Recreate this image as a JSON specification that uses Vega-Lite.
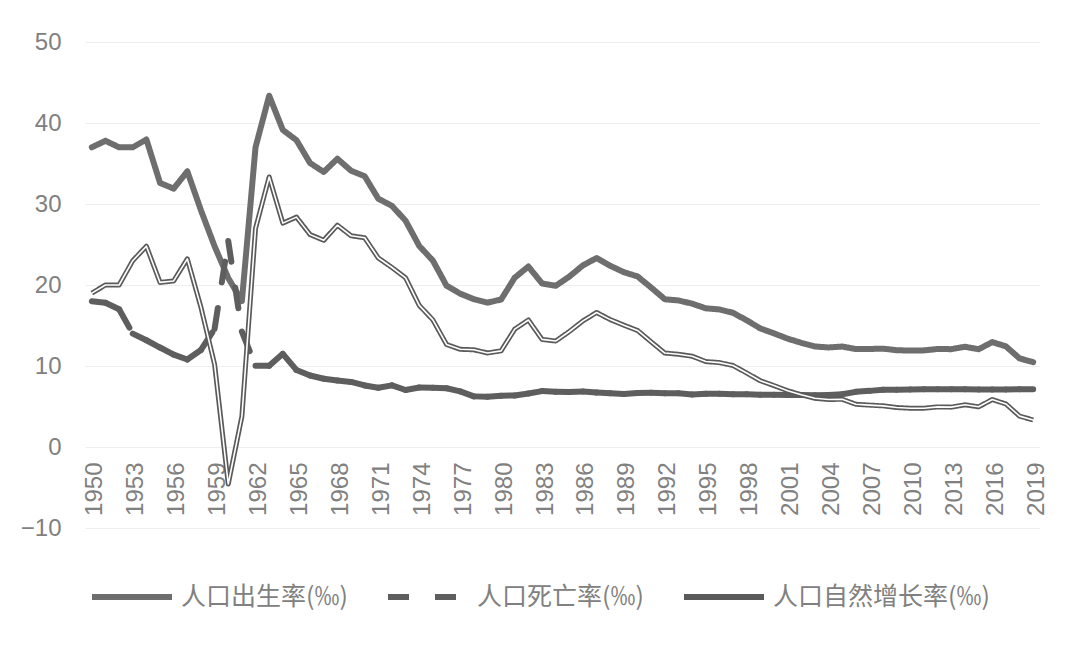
{
  "$schema": "https://vega.github.io/schema/vega-lite/v6.json",
  "width": 955,
  "height": 486,
  "autosize": "none",
  "padding": {"left": 85, "top": 42, "right": 40, "bottom": 119},
  "background": "white",
  "config": {"view": {"stroke": null}},
  "data": {"values": [
    {"year":1950,"birth":37.00,"death":18.00,"growth":19.00},
    {"year":1951,"birth":37.80,"death":17.80,"growth":20.00},
    {"year":1952,"birth":37.00,"death":17.00,"growth":20.00},
    {"year":1953,"birth":37.00,"death":14.00,"growth":23.00},
    {"year":1954,"birth":37.97,"death":13.18,"growth":24.79},
    {"year":1955,"birth":32.60,"death":12.28,"growth":20.32},
    {"year":1956,"birth":31.90,"death":11.40,"growth":20.50},
    {"year":1957,"birth":34.03,"death":10.80,"growth":23.23},
    {"year":1958,"birth":29.22,"death":11.98,"growth":17.24},
    {"year":1959,"birth":24.78,"death":14.59,"growth":10.19},
    {"year":1960,"birth":20.86,"death":25.43,"growth":-4.57},
    {"year":1961,"birth":18.02,"death":14.24,"growth":3.78},
    {"year":1962,"birth":37.01,"death":10.02,"growth":26.99},
    {"year":1963,"birth":43.37,"death":10.04,"growth":33.33},
    {"year":1964,"birth":39.14,"death":11.50,"growth":27.64},
    {"year":1965,"birth":37.88,"death":9.50,"growth":28.38},
    {"year":1966,"birth":35.05,"death":8.83,"growth":26.22},
    {"year":1967,"birth":33.96,"death":8.43,"growth":25.53},
    {"year":1968,"birth":35.59,"death":8.21,"growth":27.38},
    {"year":1969,"birth":34.11,"death":8.03,"growth":26.08},
    {"year":1970,"birth":33.43,"death":7.60,"growth":25.83},
    {"year":1971,"birth":30.65,"death":7.32,"growth":23.33},
    {"year":1972,"birth":29.77,"death":7.61,"growth":22.16},
    {"year":1973,"birth":27.93,"death":7.04,"growth":20.89},
    {"year":1974,"birth":24.82,"death":7.34,"growth":17.48},
    {"year":1975,"birth":23.01,"death":7.32,"growth":15.69},
    {"year":1976,"birth":19.91,"death":7.25,"growth":12.66},
    {"year":1977,"birth":18.93,"death":6.87,"growth":12.06},
    {"year":1978,"birth":18.25,"death":6.25,"growth":12.00},
    {"year":1979,"birth":17.82,"death":6.21,"growth":11.61},
    {"year":1980,"birth":18.21,"death":6.34,"growth":11.87},
    {"year":1981,"birth":20.91,"death":6.36,"growth":14.55},
    {"year":1982,"birth":22.28,"death":6.60,"growth":15.68},
    {"year":1983,"birth":20.19,"death":6.90,"growth":13.29},
    {"year":1984,"birth":19.90,"death":6.82,"growth":13.08},
    {"year":1985,"birth":21.04,"death":6.78,"growth":14.26},
    {"year":1986,"birth":22.43,"death":6.86,"growth":15.57},
    {"year":1987,"birth":23.33,"death":6.72,"growth":16.61},
    {"year":1988,"birth":22.37,"death":6.64,"growth":15.73},
    {"year":1989,"birth":21.58,"death":6.54,"growth":15.04},
    {"year":1990,"birth":21.06,"death":6.67,"growth":14.39},
    {"year":1991,"birth":19.68,"death":6.70,"growth":12.98},
    {"year":1992,"birth":18.24,"death":6.64,"growth":11.60},
    {"year":1993,"birth":18.09,"death":6.64,"growth":11.45},
    {"year":1994,"birth":17.70,"death":6.49,"growth":11.21},
    {"year":1995,"birth":17.12,"death":6.57,"growth":10.55},
    {"year":1996,"birth":16.98,"death":6.56,"growth":10.42},
    {"year":1997,"birth":16.57,"death":6.51,"growth":10.06},
    {"year":1998,"birth":15.64,"death":6.50,"growth":9.14},
    {"year":1999,"birth":14.64,"death":6.46,"growth":8.18},
    {"year":2000,"birth":14.03,"death":6.45,"growth":7.58},
    {"year":2001,"birth":13.38,"death":6.43,"growth":6.95},
    {"year":2002,"birth":12.86,"death":6.41,"growth":6.45},
    {"year":2003,"birth":12.41,"death":6.40,"growth":6.01},
    {"year":2004,"birth":12.29,"death":6.42,"growth":5.87},
    {"year":2005,"birth":12.40,"death":6.51,"growth":5.89},
    {"year":2006,"birth":12.09,"death":6.81,"growth":5.28},
    {"year":2007,"birth":12.10,"death":6.93,"growth":5.17},
    {"year":2008,"birth":12.14,"death":7.06,"growth":5.08},
    {"year":2009,"birth":11.95,"death":7.08,"growth":4.87},
    {"year":2010,"birth":11.90,"death":7.11,"growth":4.79},
    {"year":2011,"birth":11.93,"death":7.14,"growth":4.79},
    {"year":2012,"birth":12.10,"death":7.13,"growth":4.95},
    {"year":2013,"birth":12.08,"death":7.13,"growth":4.92},
    {"year":2014,"birth":12.37,"death":7.12,"growth":5.21},
    {"year":2015,"birth":12.07,"death":7.11,"growth":4.96},
    {"year":2016,"birth":12.95,"death":7.09,"growth":5.86},
    {"year":2017,"birth":12.43,"death":7.11,"growth":5.32},
    {"year":2018,"birth":10.94,"death":7.13,"growth":3.81},
    {"year":2019,"birth":10.48,"death":7.14,"growth":3.34}
  ]},
  "encoding": {
    "x": {
      "field": "year", "type": "quantitative",
      "scale": {"domain": [1949.5, 2019.5], "nice": false, "zero": false},
      "axis": {
        "title": null,
        "values": [1950,1953,1956,1959,1962,1965,1968,1971,1974,1977,1980,1983,1986,1989,1992,1995,1998,2001,2004,2007,2010,2013,2016,2019],
        "format": "d",
        "labelAngle": -90,
        "labelFont": "Liberation Sans",
        "labelFontSize": 24,
        "labelColor": "#808080",
        "labelPadding": 15,
        "labelOffset": 3,
        "labelOverlap": false,
        "labelFlush": false,
        "labelBound": false,
        "grid": false,
        "domain": false,
        "ticks": false,
        "offset": -81
      }
    }
  },
  "layer": [
    {
      "mark": {"type": "line", "strokeWidth": 6, "strokeCap": "round", "strokeJoin": "round"},
      "encoding": {
        "y": {
          "field": "birth", "type": "quantitative",
          "scale": {"domain": [-10, 50], "nice": false, "zero": false},
          "axis": {
            "title": null,
            "values": [-10, 0, 10, 20, 30, 40, 50],
            "labelFont": "Liberation Sans",
            "labelFontSize": 24,
            "labelColor": "#808080",
            "labelPadding": 24,
            "grid": true,
            "gridColor": "#eeeeee",
            "gridWidth": 1,
            "domain": false,
            "ticks": false
          }
        },
        "color": {
          "datum": "人口出生率(‰)",
          "scale": {"domain": ["人口出生率(‰)", "人口死亡率(‰)", "人口自然增长率(‰)"], "range": ["#6e6e6e", "#5e5e5e", "#5a5a5a"]},
          "legend": {
            "title": null,
            "orient": "none",
            "legendX": 4,
            "legendY": 512,
            "direction": "horizontal",
            "padding": 0,
            "symbolSize": 6400,
            "symbolStrokeWidth": 6,
            "labelFont": "Noto Sans CJK SC",
            "labelFontSize": 25,
            "labelColor": "#808080",
            "labelOffset": 6,
            "labelLimit": 0,
            "columnPadding": 28
          }
        },
        "strokeDash": {
          "datum": "人口出生率(‰)",
          "scale": {"domain": ["人口出生率(‰)", "人口死亡率(‰)", "人口自然增长率(‰)"], "range": [[1, 0], [21, 26], [1, 0]]},
          "legend": {
            "title": null,
            "orient": "none",
            "legendX": 4,
            "legendY": 512,
            "direction": "horizontal",
            "padding": 0,
            "symbolSize": 6400,
            "symbolStrokeWidth": 6,
            "labelFont": "Noto Sans CJK SC",
            "labelFontSize": 25,
            "labelColor": "#808080",
            "labelOffset": 6,
            "labelLimit": 0,
            "columnPadding": 28
          }
        }
      }
    },
    {
      "transform": [
        {"window": [{"op": "lead", "field": "year", "as": "year2"}, {"op": "lead", "field": "death", "as": "death2"}], "sort": [{"field": "year", "order": "ascending"}]},
        {"filter": "datum.year2 != null"}
      ],
      "mark": {"type": "rule", "strokeWidth": 6, "strokeCap": "round"},
      "encoding": {
        "y": {"field": "death", "type": "quantitative"},
        "x2": {"field": "year2"},
        "y2": {"field": "death2"},
        "color": {"datum": "人口死亡率(‰)"},
        "strokeDash": {"datum": "人口死亡率(‰)"}
      }
    },
    {
      "mark": {"type": "line", "strokeWidth": 5, "strokeJoin": "round", "strokeCap": "butt"},
      "encoding": {
        "y": {"field": "growth", "type": "quantitative"},
        "color": {"datum": "人口自然增长率(‰)"},
        "strokeDash": {"datum": "人口自然增长率(‰)"}
      }
    },
    {
      "mark": {"type": "line", "strokeWidth": 1.6, "strokeJoin": "round", "strokeCap": "butt", "color": "white"},
      "encoding": {
        "y": {"field": "growth", "type": "quantitative"}
      }
    }
  ]
}
